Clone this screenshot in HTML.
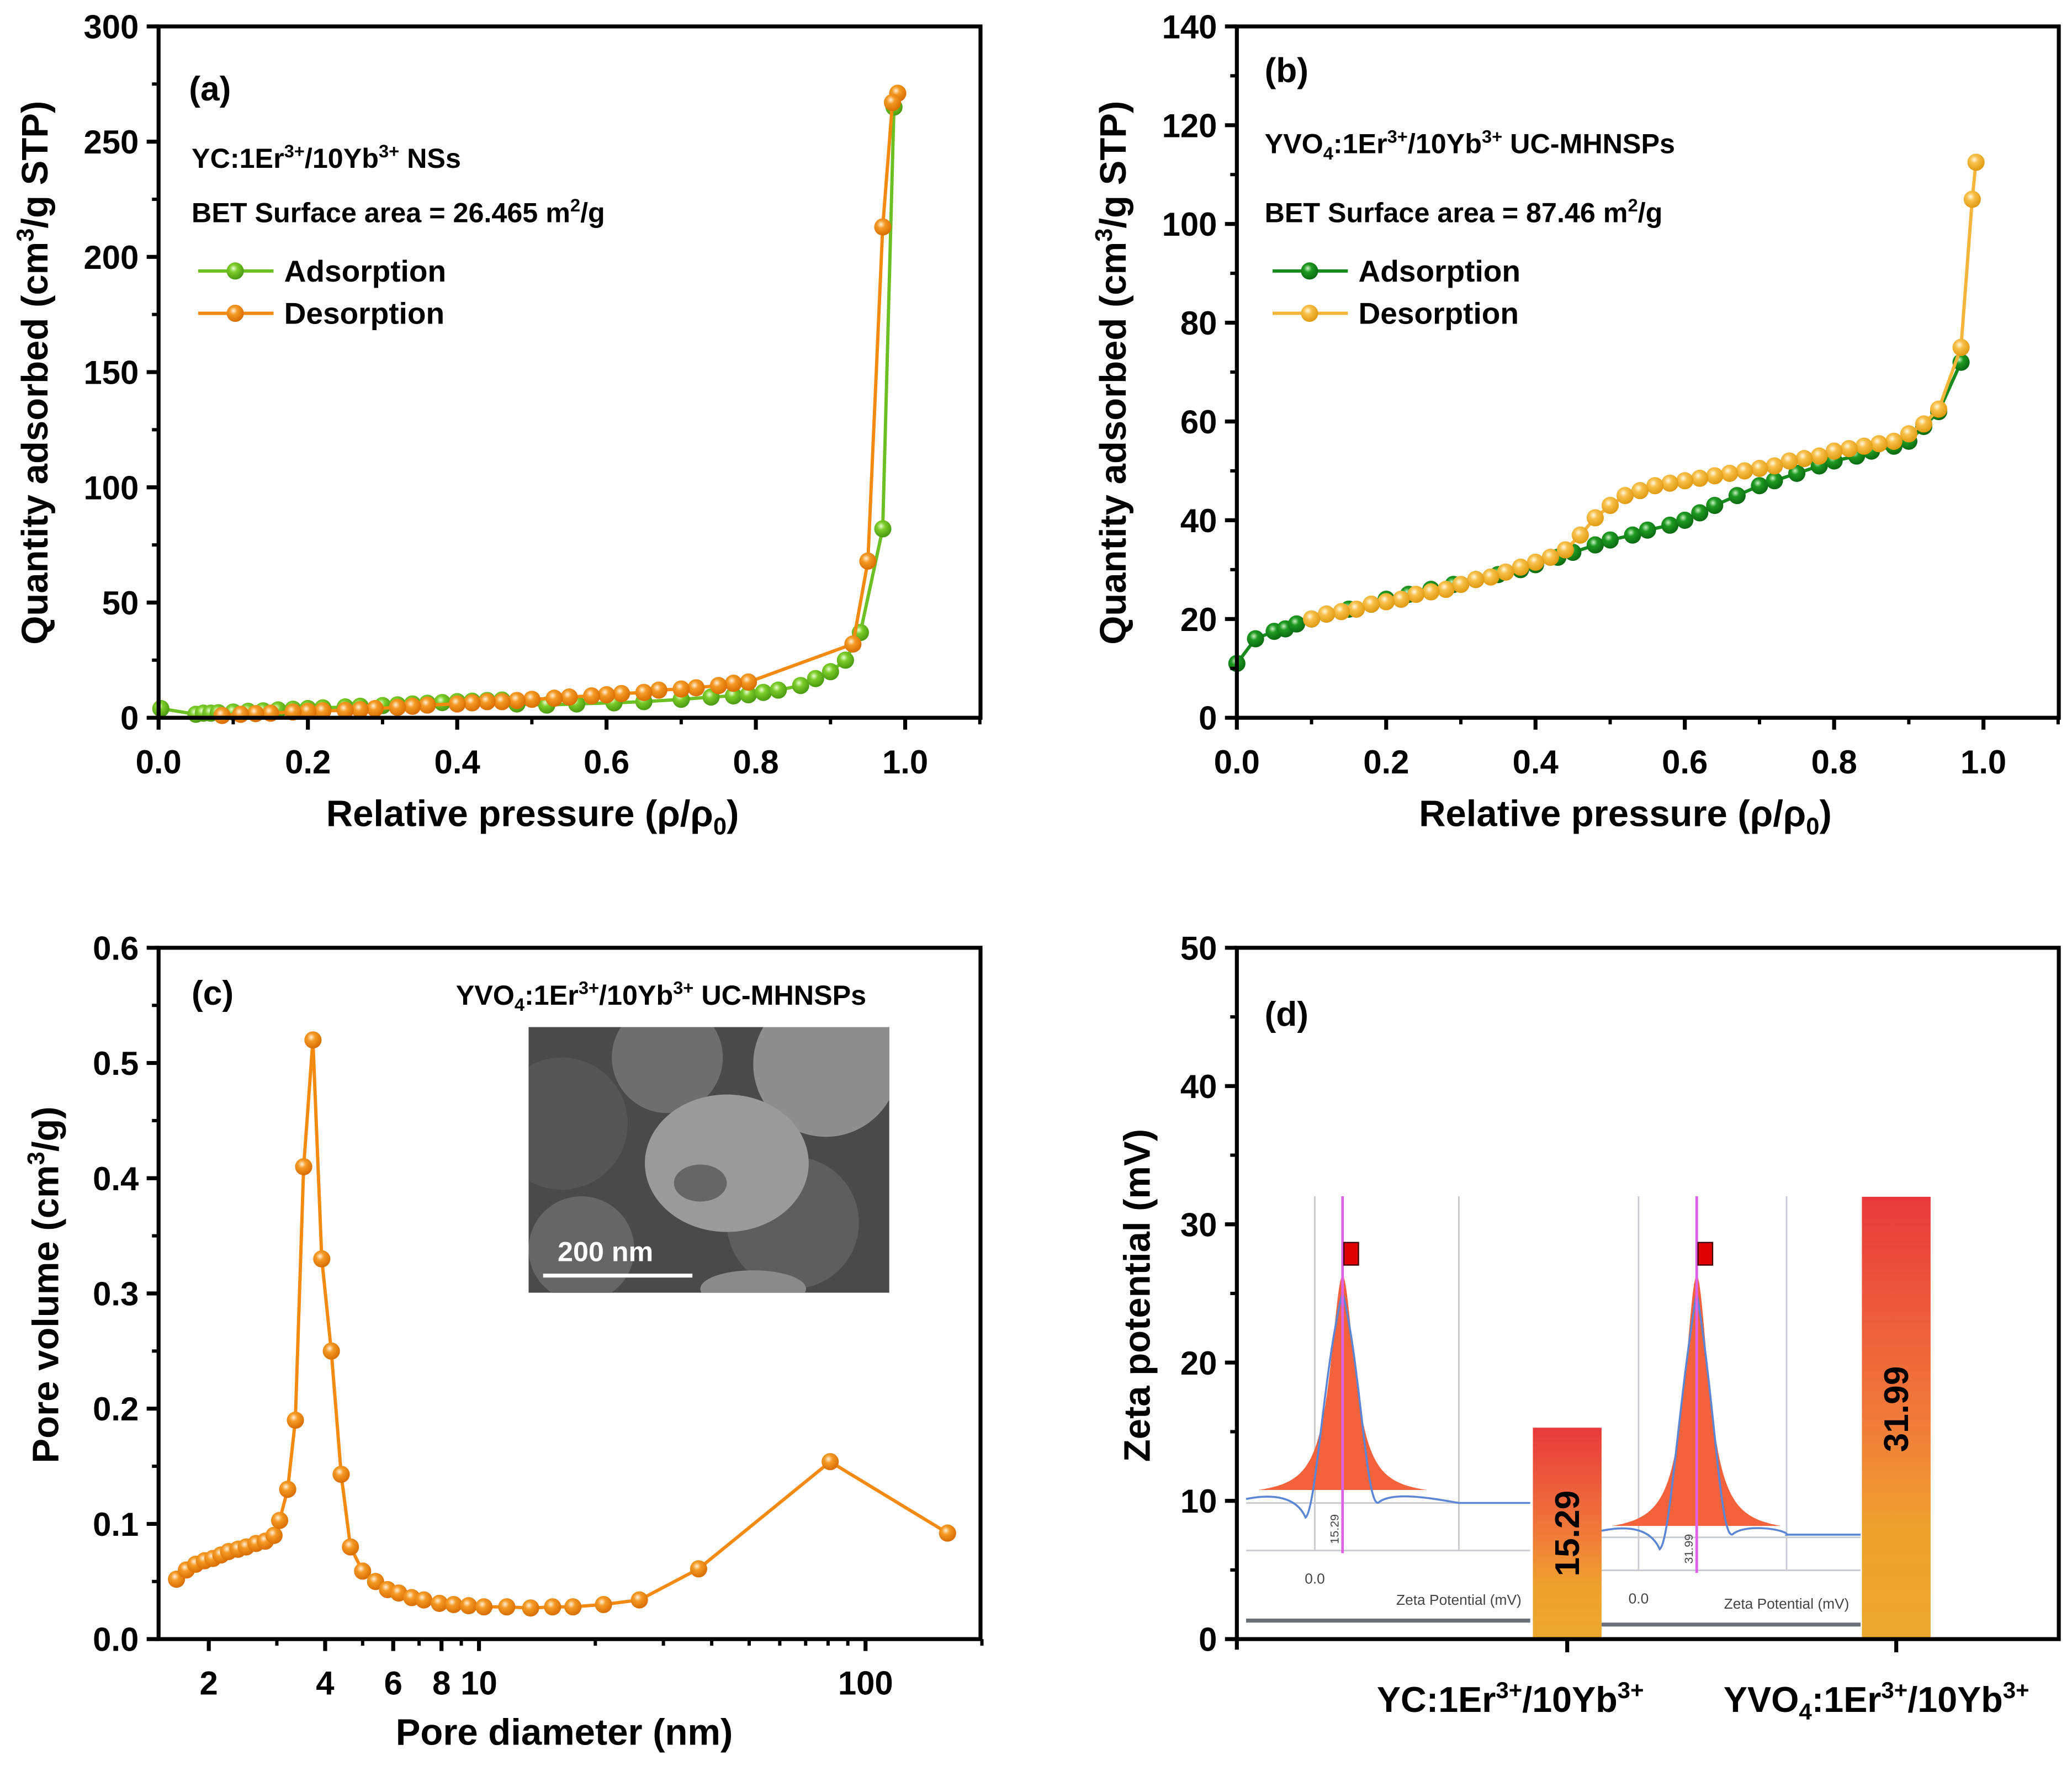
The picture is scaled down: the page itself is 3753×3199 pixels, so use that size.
<!DOCTYPE html>
<html><head><meta charset="utf-8"><style>
html,body{margin:0;padding:0;background:#fff;}
svg{display:block;}
text{font-family:"Liberation Sans",Arial,sans-serif;font-weight:bold;fill:#000;}
</style></head><body>
<svg id="fig" xmlns="http://www.w3.org/2000/svg" width="3753" height="3199" viewBox="0 0 1568 1336" preserveAspectRatio="none">
<defs>
<radialGradient id="gG" cx="0.4" cy="0.35" r="0.65"><stop offset="0" stop-color="#e8ffd0"/><stop offset="0.35" stop-color="#7ccc2a"/><stop offset="1" stop-color="#4a9a10"/></radialGradient>
<radialGradient id="gO" cx="0.4" cy="0.35" r="0.65"><stop offset="0" stop-color="#fff0d8"/><stop offset="0.35" stop-color="#f59a25"/><stop offset="1" stop-color="#d86e00"/></radialGradient>
<radialGradient id="gDG" cx="0.4" cy="0.35" r="0.65"><stop offset="0" stop-color="#c8f0c0"/><stop offset="0.35" stop-color="#1f9a22"/><stop offset="1" stop-color="#0a6a10"/></radialGradient>
<radialGradient id="gY" cx="0.4" cy="0.35" r="0.65"><stop offset="0" stop-color="#fff8e0"/><stop offset="0.35" stop-color="#f8c04a"/><stop offset="1" stop-color="#e09a10"/></radialGradient>
<linearGradient id="barG" x1="0" y1="0" x2="0" y2="1"><stop offset="0" stop-color="#e83a3c"/><stop offset="0.5" stop-color="#f07a3a"/><stop offset="0.75" stop-color="#eea22e"/><stop offset="1" stop-color="#eca82e"/></linearGradient>
<clipPath id="semClip"><rect x="400" y="777" width="273" height="201"/></clipPath>
</defs>
<g id="root"></g>
</svg>
<script>
// ---------- data ----------
const aAdsX=[0.003,0.05,0.06,0.07,0.08,0.1,0.12,0.14,0.16,0.18,0.2,0.22,0.25,0.27,0.3,0.32,0.34,0.36,0.38,0.4,0.42,0.44,0.46,0.48,0.52,0.56,0.61,0.65,0.7,0.74,0.77,0.79,0.81,0.83,0.86,0.88,0.9,0.92,0.94,0.97,0.985];
const aAdsY=[4,1.5,2,2,2.2,2.5,2.8,3,3.4,3.7,4,4.3,4.7,5,5.3,5.6,6,6.3,6.6,7,7.2,7.5,7.7,6,5.5,6,6.5,7,8,9,9.5,10,11,12,14,17,20,25,37,82,265];
const aDesX=[0.99,0.983,0.97,0.95,0.93,0.79,0.77,0.75,0.72,0.7,0.67,0.65,0.62,0.6,0.58,0.55,0.53,0.5,0.48,0.46,0.44,0.42,0.4,0.36,0.34,0.32,0.29,0.27,0.25,0.22,0.2,0.18,0.15,0.13,0.11,0.085];
const aDesY=[271,267,213,68,32,15.5,15,14,13,12.5,12,11,10.5,10,9.5,9,8.5,8,7.5,7,7,6.5,6,5.5,5,4.5,4,3.5,3.2,3,2.8,2.5,2,1.8,1.5,1];
const bAdsX=[0.0,0.025,0.05,0.065,0.08,0.1,0.12,0.15,0.18,0.2,0.23,0.26,0.29,0.32,0.35,0.38,0.4,0.43,0.45,0.48,0.5,0.53,0.55,0.58,0.6,0.62,0.64,0.67,0.7,0.72,0.75,0.78,0.8,0.83,0.85,0.88,0.9,0.92,0.94,0.97];
const bAdsY=[11,16,17.5,18,19,20,21,22,23,24,25,26,27,28,29,30,31,32.5,33.5,35,36,37,38,39,40,41.5,43,45,47,48,49.5,51,52,53,54,55,56,59,62,72];
const bDesX=[0.99,0.985,0.97,0.94,0.92,0.9,0.88,0.86,0.84,0.82,0.8,0.78,0.76,0.74,0.72,0.7,0.68,0.66,0.64,0.62,0.6,0.58,0.56,0.54,0.52,0.5,0.48,0.46,0.44,0.42,0.4,0.38,0.36,0.34,0.32,0.3,0.28,0.26,0.24,0.22,0.2,0.18,0.16,0.14,0.12,0.1];
const bDesY=[112.5,105,75,62.5,59.5,57.5,56,55.5,55,54.5,54,53,52.5,52,51,50.5,50,49.5,49,48.5,48,47.5,47,46,45,43,40.5,37,34,32.5,31.5,30.5,29.5,28.5,28,27,26,25.5,25,24,23.5,23,22,21.5,21,20];
const cX=[1.65,1.75,1.85,1.95,2.05,2.15,2.25,2.38,2.5,2.65,2.8,2.95,3.05,3.2,3.35,3.52,3.72,3.92,4.15,4.4,4.65,5.0,5.4,5.8,6.2,6.7,7.2,7.9,8.6,9.4,10.3,11.8,13.6,15.5,17.5,21,26,37,81,163];
const cY=[0.052,0.06,0.065,0.068,0.07,0.073,0.076,0.078,0.08,0.083,0.085,0.09,0.103,0.13,0.19,0.41,0.52,0.33,0.25,0.143,0.08,0.059,0.05,0.043,0.04,0.036,0.034,0.031,0.03,0.029,0.028,0.028,0.027,0.028,0.028,0.03,0.034,0.061,0.154,0.092];
const dCats=["YC","YVO4"];
const dVals=[15.29,31.99];
const dLabels=["15.29","31.99"];

// ---------- helpers ----------
const NS="http://www.w3.org/2000/svg";
const root=document.getElementById('root');
function mk(tag,attrs,parent,txt){const e=document.createElementNS(NS,tag);for(const k in attrs)e.setAttribute(k,attrs[k]);if(txt!==undefined)e.textContent=txt;(parent||root).appendChild(e);return e;}
function lin(d0,d1,p0,p1){return v=>p0+(v-d0)*(p1-p0)/(d1-d0);}

function frame(g,L,T,R,B){
  const f=mk('rect',{x:L,y:T,width:R-L,height:B-T,fill:'none',stroke:'#000','stroke-width':3},g);
  
  
}
function yTicks(g,sy,L,vals,labels,minors){
  vals.forEach((v,i)=>{
    const t=mk('line',{x1:L-9,x2:L,y1:sy(v),y2:sy(v),stroke:'#000','stroke-width':3},g);
    
    
    const l=mk('text',{x:L-15,y:sy(v)+9,'font-size':25,'text-anchor':'end'},g,labels[i]);
    
    
  });
  minors.forEach(v=>{const t=mk('line',{x1:L-5,x2:L,y1:sy(v),y2:sy(v),stroke:'#000','stroke-width':2.5},g);
    
    });
}
function xTicks(g,sx,B,vals,labels,minors){
  vals.forEach((v,i)=>{
    const t=mk('line',{x1:sx(v),x2:sx(v),y1:B,y2:B+9,stroke:'#000','stroke-width':3},g);
    
    
    if(labels[i]!==''){const l=mk('text',{x:sx(v),y:B+42,'font-size':25,'text-anchor':'middle'},g,labels[i]);
    
    }
  });
  minors.forEach(v=>{const t=mk('line',{x1:sx(v),x2:sx(v),y1:B,y2:B+5,stroke:'#000','stroke-width':2.5},g);
    
    });
}
function series(g,xs,ys,sx,sy,color,grad,name){
  const pts=xs.map((x,i)=>sx(x).toFixed(1)+','+sy(ys[i]).toFixed(1)).join(' ');
  const pl=mk('polyline',{points:pts,fill:'none',stroke:color,'stroke-width':2.5},g);
  
  
  xs.forEach((x,i)=>{const c=mk('circle',{cx:sx(x),cy:sy(ys[i]),r:6.5,fill:'url(#'+grad+')'},g);
    
    });
}
function legendEntry(g,x,y,color,grad,label){
  const lg=mk('g',{},g);
  
  
  mk('line',{x1:x,x2:x+57,y1:y,y2:y,stroke:color,'stroke-width':2.5},lg);
  mk('circle',{cx:x+28,cy:y,r:6.5,fill:'url(#'+grad+')'},lg);
  mk('text',{x:x+65,y:y+8,'font-size':23},lg,label);
}
function rich(g,x,y,size,parts,anchor,name,rot){
  const a={x:x,y:y,'font-size':size};
  if(anchor)a['text-anchor']=anchor;
  if(rot)a.transform='rotate(-90 '+x+' '+y+')';
  const t=mk('text',a,g);
  
  
  parts.forEach(p=>{
    const s=mk('tspan',{},t,p[0]);
    if(p[1]==='sup'){s.setAttribute('dy',-size*0.38);s.setAttribute('font-size',size*0.65);}
    else if(p[1]==='sub'){s.setAttribute('dy',size*0.22);s.setAttribute('font-size',size*0.65);}
    else if(p[1]==='back-sup'){s.setAttribute('dy',size*0.38);}
    else if(p[1]==='back-sub'){s.setAttribute('dy',-size*0.22);}
  });
  return t;
}

// ---------- Panel (a) ----------
(function(){
  const g=mk('g',{});
  const L=120,R=742,T=20,B=543;
  const sx=lin(0,1,120,685), sy=lin(0,300,B,T);
  series(g,aAdsX,aAdsY,sx,sy,'#6cc024','gG','adsorption');
  series(g,aDesX,aDesY,sx,sy,'#f58a10','gO','desorption');
  frame(g,L,T,R,B);
  yTicks(g,sy,L,[0,50,100,150,200,250,300],['0','50','100','150','200','250','300'],[25,75,125,175,225,275]);
  xTicks(g,sx,B,[0,0.2,0.4,0.6,0.8,1.0],['0.0','0.2','0.4','0.6','0.8','1.0'],[0.1,0.3,0.5,0.7,0.9,1.1]);
  rich(g,143,76,26,[['(a)']],null,'panel-label-a');
  rich(g,145,127,21,[['YC:1Er'],['3+','sup'],['/10Yb','back-sup'],['3+','sup'],[' NSs','back-sup']],null,'sample-name-a');
  rich(g,145,168,21,[['BET Surface area = 26.465 m'],['2','sup'],['/g','back-sup']],null,'bet-area-a');
  legendEntry(g,150,205,'#6cc024','gG','Adsorption');
  legendEntry(g,150,237,'#f58a10','gO','Desorption');
  rich(g,403,625,28,[['Relative pressure (ρ/ρ'],['0','sub'],[')','back-sub']],'middle','x-axis-title-a');
  rich(g,36,282,28,[['Quantity adsorbed (cm'],['3','sup'],['/g STP)','back-sup']],'middle','y-axis-title-a',true);
})();

// ---------- Panel (b) ----------
(function(){
  const g=mk('g',{});
  const L=936,R=1558,T=20,B=543;
  const sx=lin(0,1,936,1501), sy=lin(0,140,B,T);
  series(g,bAdsX,bAdsY,sx,sy,'#168a1c','gDG','adsorption');
  series(g,bDesX,bDesY,sx,sy,'#f5b43a','gY','desorption');
  frame(g,L,T,R,B);
  yTicks(g,sy,L,[0,20,40,60,80,100,120,140],['0','20','40','60','80','100','120','140'],[10,30,50,70,90,110,130]);
  xTicks(g,sx,B,[0,0.2,0.4,0.6,0.8,1.0],['0.0','0.2','0.4','0.6','0.8','1.0'],[0.1,0.3,0.5,0.7,0.9,1.1]);
  rich(g,957,62,26,[['(b)']],null,'panel-label-b');
  rich(g,957,116,21,[['YVO'],['4','sub'],[':1Er','back-sub'],['3+','sup'],['/10Yb','back-sup'],['3+','sup'],[' UC-MHNSPs','back-sup']],null,'sample-name-b');
  rich(g,957,168,21,[['BET Surface area = 87.46 m'],['2','sup'],['/g','back-sup']],null,'bet-area-b');
  legendEntry(g,963,205,'#168a1c','gDG','Adsorption');
  legendEntry(g,963,237,'#f5b43a','gY','Desorption');
  rich(g,1230,625,28,[['Relative pressure (ρ/ρ'],['0','sub'],[')','back-sub']],'middle','x-axis-title-b');
  rich(g,852,282,28,[['Quantity adsorbed (cm'],['3','sup'],['/g STP)','back-sup']],'middle','y-axis-title-b',true);
})();

// ---------- Panel (c) ----------
(function(){
  const g=mk('g',{});
  const L=120,R=742,T=717,B=1240;
  const lx=lin(Math.log10(2),2,158,655); const sx=v=>lx(Math.log10(v));
  const sy=lin(0,0.6,B,T);
  // SEM inset
  const sem=mk('g',{'clip-path':'url(#semClip)'},g);
  mk('rect',{x:400,y:777,width:273,height:201,fill:'#4a4a4a'},sem);
  mk('circle',{cx:425,cy:850,r:50,fill:'#555'},sem);
  mk('circle',{cx:505,cy:800,r:42,fill:'#6e6e6e'},sem);
  mk('circle',{cx:625,cy:805,r:55,fill:'#8e8e8e'},sem);
  mk('circle',{cx:600,cy:925,r:50,fill:'#5e5e5e'},sem);
  mk('circle',{cx:440,cy:945,r:40,fill:'#666'},sem);
  mk('ellipse',{cx:550,cy:880,rx:62,ry:52,fill:'#9a9a9a'},sem);
  mk('ellipse',{cx:530,cy:895,rx:20,ry:14,fill:'#666'},sem);
  mk('ellipse',{cx:570,cy:975,rx:40,ry:14,fill:'#8a8a8a'},sem);
  mk('line',{x1:411,x2:524,y1:965,y2:965,stroke:'#fff','stroke-width':3},sem);
  mk('text',{x:422,y:954,'font-size':21,style:'fill:#fff'},sem,'200 nm');
  series(g,cX,cY,sx,sy,'#f58a10','gO','pore-distribution');
  frame(g,L,T,R,B);
  yTicks(g,sy,L,[0,0.1,0.2,0.3,0.4,0.5,0.6],['0.0','0.1','0.2','0.3','0.4','0.5','0.6'],[0.05,0.15,0.25,0.35,0.45,0.55]);
  xTicks(g,sx,B,[2,4,6,8,10,100],['2','4','6','8','10','100'],[3,5,7,9,20,30,40,50,60,70,80,90,200]);
  rich(g,145,760,26,[['(c)']],null,'panel-label-c');
  rich(g,345,760,21,[['YVO'],['4','sub'],[':1Er','back-sub'],['3+','sup'],['/10Yb','back-sup'],['3+','sup'],[' UC-MHNSPs','back-sup']],null,'sample-name-c');
  rich(g,427,1320,28,[['Pore diameter (nm)']],'middle','x-axis-title-c');
  rich(g,44,972,28,[['Pore volume (cm'],['3','sup'],['/g)','back-sup']],'middle','y-axis-title-c',true);
})();

// ---------- Panel (d) ----------
(function(){
  const g=mk('g',{});
  const L=936,R=1558,T=717,B=1240;
  const sy=lin(0,50,B,T);
  const cx=i=>1186+i*249;
  function lorentz(pk,base,top,w,x0,x1){
    let s='';for(let x=x0;x<=x1;x+=1){const y=base-(base-top)/(1+Math.pow((x-pk)/w,2));s+=(s?' L':'M')+x+','+y.toFixed(1);}return s;
  }
  function inset(x0,x1,vl1,vl2,pk,base,hl1,hl2,valTxt,glY,flat){
    const ig=mk('g',{},g);
    mk('line',{x1:vl1,x2:vl1,y1:905,y2:hl2,stroke:'#c8ccd0','stroke-width':1.2},ig);
    mk('line',{x1:vl2,x2:vl2,y1:905,y2:hl2,stroke:'#c8ccd0','stroke-width':1.2},ig);
    mk('line',{x1:x0,x2:x1,y1:hl1,y2:hl1,stroke:'#c8ccd0','stroke-width':1.2},ig);
    mk('line',{x1:x0,x2:x1,y1:hl2,y2:hl2,stroke:'#c8ccd0','stroke-width':1.2},ig);
    mk('path',{d:lorentz(pk,base,965,11,pk-64,pk+64)+' Z',fill:'#f4623c'},ig);
    mk('path',{d:`M${x0},${flat} C${x0+20},${flat-4} ${pk-35},${flat-2} ${pk-28},${flat+14} C${pk-20},${flat+8} ${pk-14},${base-100} ${pk},978 C${pk+14},${base-100} ${pk+18},${flat+14} ${pk+28},${flat+2} C${pk+40},${flat-6} ${pk+70},${flat} ${vl2},${flat+3} L${x1},${flat+3}`,fill:'none',stroke:'#5b86d6','stroke-width':1.5},ig);
    mk('line',{x1:pk,x2:pk,y1:905,y2:hl2+2,stroke:'#e060e8','stroke-width':2},ig);
    mk('rect',{x:pk+1,y:940,width:11,height:17,fill:'#e00000',stroke:'#400','stroke-width':1},ig);
    mk('text',{x:pk-3,y:hl2-5,'font-size':9,transform:`rotate(-90 ${pk-3} ${hl2-5})`,style:'font-weight:normal;fill:#444'},ig,valTxt);
    mk('text',{x:vl1,y:hl2+25,'font-size':11,'text-anchor':'middle',style:'font-weight:normal;fill:#444'},ig,'0.0');
    mk('text',{x:vl2,y:glY-12,'font-size':11,'text-anchor':'middle',style:'font-weight:normal;fill:#444'},ig,'Zeta Potential (mV)');
    mk('line',{x1:x0,x2:x1,y1:glY,y2:glY,stroke:'#6a7078','stroke-width':3},ig);
  }
  inset(943,1158,995,1104,1016,1132,1137,1173,'15.29',1226,1134);
  inset(1212,1408,1240,1352,1284,1160,1163,1188,'31.99',1229,1158);
  dVals.forEach((v,i)=>{
    const b=mk('rect',{x:cx(i)-26,y:sy(v),width:52,height:B-sy(v),fill:'url(#barG)'},g);
    
    
    const y0=i===0?sy(v)+(B-sy(v))*0.5:sy(v)+(B-sy(v))*0.48;
    const t=mk('text',{x:cx(i)+9,y:y0,'font-size':26,'text-anchor':'middle',transform:`rotate(-90 ${cx(i)+9} ${y0})`},g,dLabels[i]);
    
    
  });
  frame(g,L,T,R,B);
  yTicks(g,sy,L,[0,10,20,30,40,50],['0','10','20','30','40','50'],[5,15,25,35,45]);
  dCats.forEach((c,i)=>{const t=mk('line',{x1:cx(i),x2:cx(i),y1:B,y2:B+10,stroke:'#000','stroke-width':3},g);
    
    });
  mk('line',{x1:L,x2:L,y1:B,y2:B+8,stroke:'#000','stroke-width':3},g);
  rich(g,1143,1295,27,[['YC:1Er'],['3+','sup'],['/10Yb','back-sup'],['3+','sup']],'middle','category-label-yc');
  rich(g,1420,1295,27,[['YVO'],['4','sub'],[':1Er','back-sub'],['3+','sup'],['/10Yb','back-sup'],['3+','sup']],'middle','category-label-yvo4');
  rich(g,957,776,26,[['(d)']],null,'panel-label-d');
  rich(g,870,980,28,[['Zeta potential (mV)']],'middle','y-axis-title-d',true);
})();
</script>
</body></html>
